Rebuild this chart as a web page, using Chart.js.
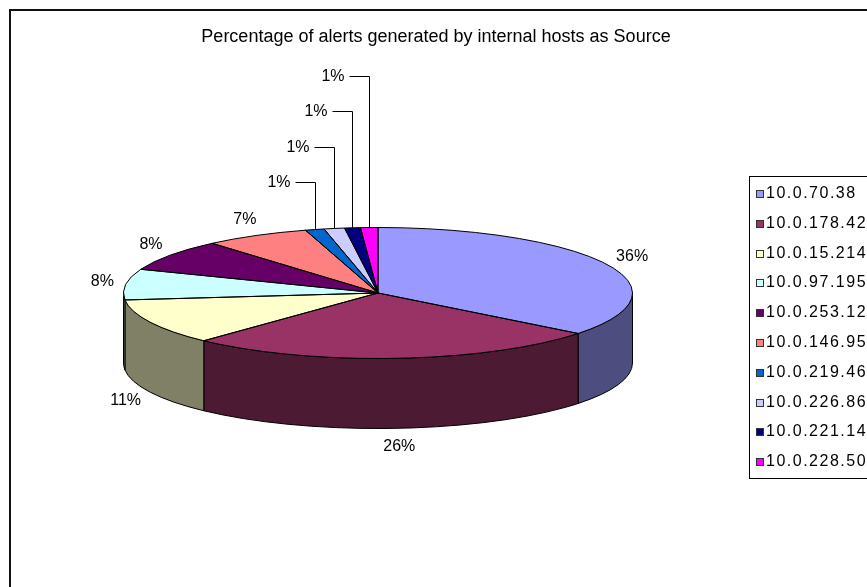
<!DOCTYPE html>
<html>
<head>
<meta charset="utf-8">
<title>Alerts by internal hosts</title>
<script src="https://cdn.jsdelivr.net/npm/chart.js@4.4.0/dist/chart.umd.min.js"></script>
<style>
    html, body { margin: 0; padding: 0; background: #fff; }
    #wrap { width: 867px; height: 587px; }
</style>
</head>
<body>
<div id="wrap"><canvas id="pie3d" width="867" height="587"></canvas></div>
<script>
const chartTitle = 'Percentage of alerts generated by internal hosts as Source';
const hosts = ['10.0.70.38', '10.0.178.42', '10.0.15.214', '10.0.97.195', '10.0.253.12',
               '10.0.146.95', '10.0.219.46', '10.0.226.86', '10.0.221.14', '10.0.228.50'];
const shares = [35.6, 26.4, 11.3, 7.6, 7.8, 6.7, 1.2, 1.3, 1.0, 1.1];
const topColors = ['#9999FF', '#993366', '#FFFFCC', '#CCFFFF', '#660066',
                   '#FF8080', '#0066CC', '#CCCCFF', '#000080', '#FF00FF'];

// darker colour for the side walls
function shade(hex, f) {
    const n = parseInt(hex.slice(1), 16);
    const r = Math.round((n >> 16 & 255) * f);
    const g = Math.round((n >> 8 & 255) * f);
    const b = Math.round((n & 255) * f);
    return 'rgb(' + r + ',' + g + ',' + b + ')';
}

const total = shares.reduce((a, b) => a + b, 0);
const FONT = '"Liberation Sans", Arial, sans-serif';

const pie3d = {
    id: 'pie3d',
    beforeDraw(chart) {
        const ctx = chart.ctx;
        ctx.save();
        ctx.strokeStyle = '#111';
        ctx.lineWidth = 2;
        ctx.beginPath();
        ctx.moveTo(10, 600);
        ctx.lineTo(10, 10);
        ctx.lineTo(880, 10);
        ctx.stroke();
        ctx.fillStyle = '#000';
        ctx.font = '18px ' + FONT;
        ctx.textAlign = 'center';
        ctx.textBaseline = 'middle';
        ctx.fillText(chartTitle, 436, 37);
        ctx.restore();
    },
    beforeDatasetsDraw(chart, args, o) {
        const ctx = chart.ctx;
        const arcs = chart.getDatasetMeta(0).data;
        const cx = arcs[0].x, cy = arcs[0].y, r = arcs[0].outerRadius, ry = r * o.tilt;
        ctx.save();
        ctx.lineWidth = 1;
        ctx.strokeStyle = '#000';
        arcs.forEach((arc, i) => {
            const s = Math.max(arc.startAngle, 0);
            const e = Math.min(arc.endAngle, Math.PI);
            if (e <= s) return;
            ctx.beginPath();
            ctx.ellipse(cx, cy, r, ry, 0, s, e);
            ctx.ellipse(cx, cy + o.depth, r, ry, 0, e, s, true);
            ctx.closePath();
            ctx.fillStyle = shade(topColors[i], 0.5);
            ctx.fill();
            ctx.stroke();
        });
        ctx.restore();
        // squash the pie drawn by chart.js into the top face
        ctx.save();
        ctx.translate(cx, cy);
        ctx.scale(1, o.tilt);
        ctx.translate(-cx, -cy);
    },
    afterDatasetsDraw(chart, args, o) {
        const ctx = chart.ctx;
        ctx.restore();
        const arcs = chart.getDatasetMeta(0).data;
        const cx = arcs[0].x, cy = arcs[0].y, r = arcs[0].outerRadius, ry = r * o.tilt;
        ctx.save();
        ctx.lineWidth = 1;
        ctx.strokeStyle = '#000';
        arcs.forEach(arc => {
            ctx.beginPath();
            ctx.moveTo(cx, cy);
            ctx.ellipse(cx, cy, r, ry, 0, arc.startAngle, arc.endAngle);
            ctx.closePath();
            ctx.stroke();
        });

        // percentage labels
        ctx.font = '16px ' + FONT;
        ctx.fillStyle = '#000';
        ctx.textBaseline = 'middle';
        let j = 0;
        arcs.forEach((arc, i) => {
            const mid = (arc.startAngle + arc.endAngle) / 2;
            const c = Math.cos(mid), sn = Math.sin(mid);
            const txt = Math.round(shares[i] / total * 100) + '%';
            const w = ctx.measureText(txt).width;
            if (shares[i] / total < 0.02) {
                const mx = Math.round(cx + r * c) + 0.5;
                const my = cy + ry * sn;
                const ly = Math.round(cy - ry - 45 - 35.5 * j) + 0.5;
                ctx.textAlign = 'right';
                ctx.fillText(txt, mx - 25, ly);
                ctx.beginPath();
                ctx.moveTo(mx - 20, ly);
                ctx.lineTo(mx, ly);
                ctx.lineTo(mx, my);
                ctx.stroke();
                j++;
            } else {
                const px = cx + (r + 12) * c;
                const py = cy + (ry + 10) * sn + (sn > 0 ? o.depth : 0);
                ctx.textAlign = 'center';
                ctx.fillText(txt, px + c * w / 2, py + sn * 8);
            }
        });

        // legend
        ctx.strokeRect(749.5, 176.5, 140, 302);
        ctx.textAlign = 'left';
        ctx.letterSpacing = '1.5px';
        hosts.forEach((h, i) => {
            const y = Math.round(194 + i * 29.8);
            ctx.fillStyle = topColors[i];
            ctx.fillRect(756, y - 4, 8, 8);
            ctx.strokeStyle = '#333';
            ctx.strokeRect(756.5, y - 3.5, 7, 7);
            ctx.fillStyle = '#000';
            ctx.fillText(h, 766, y);
        });
        ctx.restore();
    }
};

const chart = new Chart(document.getElementById('pie3d'), {
    type: 'pie',
    data: {
        labels: hosts,
        datasets: [{
            data: shares,
            backgroundColor: topColors,
            borderWidth: 0
        }]
    },
    options: {
        responsive: false,
        animation: false,
        events: [],
        radius: 254.5,
        layout: { padding: { left: 0, right: 111, top: 40, bottom: 41 } },
        plugins: {
            legend: { display: false },
            title: { display: false },
            tooltip: { enabled: false },
            pie3d: { tilt: 0.2574, depth: 70 }
        }
    },
    plugins: [pie3d]
});
</script>
</body>
</html>
